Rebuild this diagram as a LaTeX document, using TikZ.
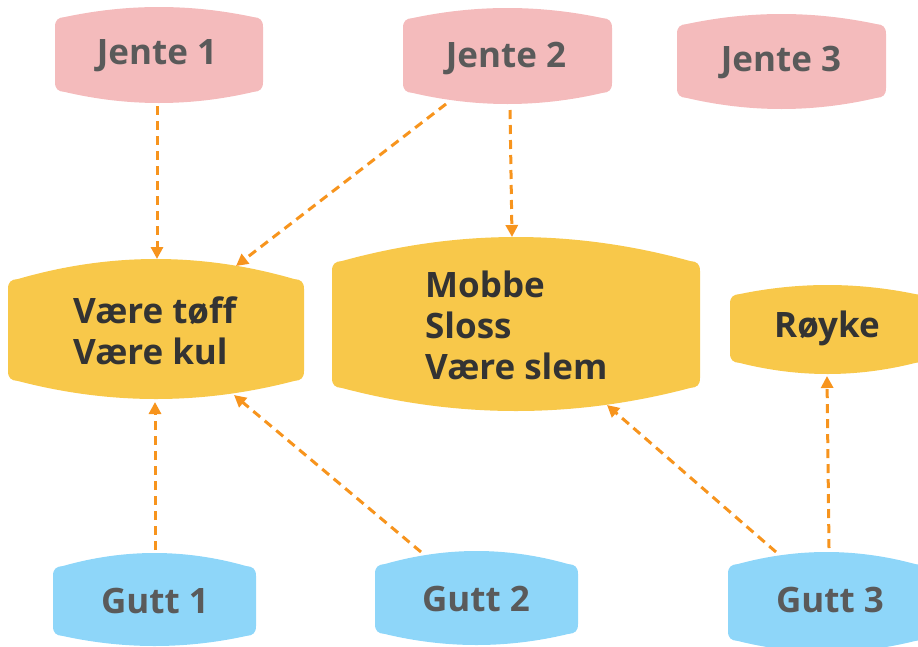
\documentclass[tikz,border=0pt]{standalone}
\usepackage{fontspec}
\setmainfont{Open Sans}
\usetikzlibrary{arrows.meta}
\definecolor{pinkbox}{HTML}{F4BBBC}
\definecolor{yellowbox}{HTML}{F8C84A}
\definecolor{bluebox}{HTML}{8ED6F9}
\definecolor{arrowc}{HTML}{F7941D}
\definecolor{graytxt}{HTML}{5A5A5A}
\definecolor{darktxt}{HTML}{333333}
% \barrel{fill}{L}{R}{topCentre}{topSide}{bottomSide}{bottomCentre}
\newcommand{\barrel}[7]{%
  \fill[#1] (#2,{#5+9}) -- (#2,{#6-9})
    .. controls (#2,{#6-2}) and ({#2+3},{#6+0.5}) .. ({#2+10},{#6+1})
    .. controls ({#2+10+2/3*((#3-#2)/2-10)},{#6+1+4/3*(#7-#6-1)})
           and ({#3-10-2/3*((#3-#2)/2-10)},{#6+1+4/3*(#7-#6-1)}) .. ({#3-10},{#6+1})
    .. controls ({#3-3},{#6+0.5}) and (#3,{#6-2}) .. (#3,{#6-9})
    -- (#3,{#5+9})
    .. controls (#3,{#5+2}) and ({#3-3},{#5-0.5}) .. ({#3-10},{#5-1})
    .. controls ({#3-10-2/3*((#3-#2)/2-10)},{#5-1+4/3*(#4-#5+1)})
           and ({#2+10+2/3*((#3-#2)/2-10)},{#5-1+4/3*(#4-#5+1)}) .. ({#2+10},{#5-1})
    .. controls ({#2+3},{#5-0.5}) and (#2,{#5+2}) .. cycle;}
\tikzset{
  lbl/.style={font=\fontsize{35}{41}\selectfont\bfseries, inner sep=0pt},
  lgray/.style={lbl, text=graytxt},
  ldark/.style={lbl, text=darktxt, align=left},
  conn/.style={draw=arrowc, line width=3pt, dash pattern=on 9pt off 6pt,
    -{Triangle[length=12pt,width=12pt]}},
}
\begin{document}
\begin{tikzpicture}[x=1pt,y=-1pt]
\useasboundingbox (0,0) rectangle (918,646);
\clip (0,0) rectangle (918,646);
% boxes
\barrel{pinkbox}{55}{263}{7}{18}{91}{103}
\barrel{pinkbox}{403}{612}{8}{19}{92}{104}
\barrel{pinkbox}{677}{886}{14}{25}{97}{109}
\barrel{yellowbox}{8}{304}{259}{280}{380}{399}
\barrel{yellowbox}{332}{700}{237}{262}{387}{411}
\barrel{yellowbox}{730}{925}{285}{295}{362}{374}
\barrel{bluebox}{53}{256}{553}{567}{635}{646}
\barrel{bluebox}{375}{578}{551}{565}{633}{645}
\barrel{bluebox}{728}{925}{552}{565}{640}{652}
% labels
\node[lgray] (j1) at (157,56) {Jente 1};
\node[lgray] (j2) at (506,58) {Jente 2};
\node[lgray] (j3) at (781,62) {Jente 3};
\node[ldark, anchor=west] (v) at (73,331) {Være tøff\\Være kul};
\node[ldark, anchor=west] (m) at (425,325) {Mobbe\\Sloss\\Være slem};
\node[ldark] (r) at (827,328) {Røyke};
\node[lgray] (g1) at (155,601) {Gutt 1};
\node[lgray] (g2) at (476,599) {Gutt 2};
\node[lgray] (g3) at (830,600) {Gutt 3};
% connector end points
\coordinate (j1o) at (157,106);
\coordinate (v1) at (157,259);
\coordinate (j2a) at (446,104);
\coordinate (v2) at (236,266);
\coordinate (j2b) at (510,110);
\coordinate (m1) at (512,237);
\coordinate (g1o) at (155,550);
\coordinate (v3) at (155,402);
\coordinate (g2o) at (421,552);
\coordinate (v4) at (234,395);
\coordinate (g3a) at (776,552);
\coordinate (m2) at (607,405);
\coordinate (g3b) at (829,548);
\coordinate (r1) at (827,376);
% connectors
\draw[conn] (j1o) -- (v1);
\draw[conn] (j2a) -- (v2);
\draw[conn] (j2b) -- (m1);
\draw[conn] (g1o) -- (v3);
\draw[conn] (g2o) -- (v4);
\draw[conn] (g3a) -- (m2);
\draw[conn] (g3b) -- (r1);
\end{tikzpicture}
\end{document}
